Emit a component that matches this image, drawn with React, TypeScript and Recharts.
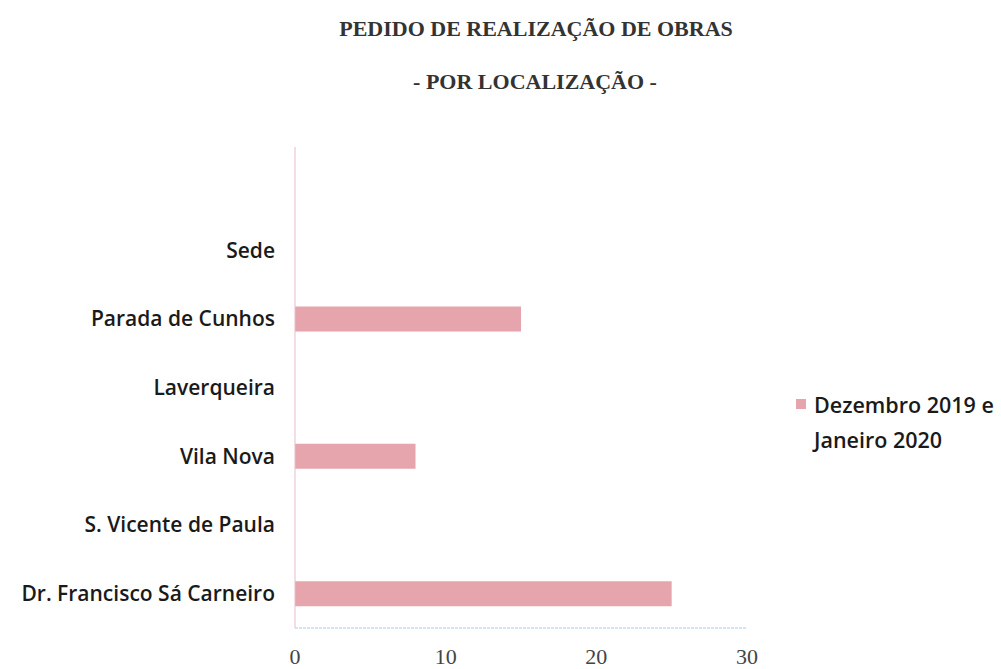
import React from "react";
import { BarChart, Bar, XAxis, YAxis, Legend } from "recharts";

const LOCATIONS = [
  "",
  "Sede",
  "Parada de Cunhos",
  "Laverqueira",
  "Vila Nova",
  "S. Vicente de Paula",
  "Dr. Francisco Sá Carneiro",
];
const PEDIDOS = [0, 0, 15, 0, 8, 0, 25];
const X_TICKS = [0, 10, 20, 30];
const SERIES_NAME = "Dezembro 2019 e Janeiro 2020";

const BAR_COLOR = "#e6a4ad";

const data = LOCATIONS.map((name, i) => ({ name, value: PEDIDOS[i] }));

function LegendBox() {
  return (
    <div
      style={{
        display: "flex",
        alignItems: "flex-start",
        fontFamily: "'Open Sans', sans-serif",
        fontWeight: 600,
        fontSize: 21.5,
        color: "#1a1a1a",
        lineHeight: "35px",
      }}
    >
      <span
        style={{
          width: 10,
          height: 10,
          background: BAR_COLOR,
          marginTop: 12,
          marginRight: 8,
          flex: "none",
        }}
      />
      <span style={{ width: 200 }}>{SERIES_NAME}</span>
    </div>
  );
}

export default function App() {
  const titleStyle: React.CSSProperties = {
    position: "absolute",
    left: 0,
    textAlign: "center",
    fontFamily: "'Liberation Serif', serif",
    fontWeight: 700,
    fontSize: 22,
    color: "#333",
    whiteSpace: "nowrap",
  };
  return (
    <div
      style={{
        position: "absolute",
        left: 0,
        top: 0,
        width: 1001,
        height: 669,
        background: "#fff",
      }}
    >
      <div style={{ ...titleStyle, top: 16, width: 1072 }}>
        PEDIDO DE REALIZAÇÃO DE OBRAS
      </div>
      <div style={{ ...titleStyle, top: 69, width: 1070 }}>
        - POR LOCALIZAÇÃO -
      </div>
      <div style={{ position: "absolute", left: 0, top: 0 }}>
        <BarChart
          width={1001}
          height={669}
          data={data}
          layout="vertical"
          barSize={25}
          margin={{ top: 147, right: 254, bottom: 0, left: 0 }}
        >
          <XAxis
            type="number"
            domain={[0, 30]}
            ticks={X_TICKS}
            height={41}
            axisLine={{ stroke: "#a8c8ea", strokeDasharray: "3 1" }}
            tickLine={false}
            tickMargin={14}
            tick={{
              fontSize: 22,
              fill: "#444",
              fontFamily: "'Liberation Serif', serif",
            }}
          />
          <YAxis
            type="category"
            dataKey="name"
            width={295}
            axisLine={{ stroke: "#ebbcc2" }}
            tickLine={false}
            tickMargin={14}
            tick={{
              fontSize: 21,
              fontWeight: 600,
              fill: "#1a1a1a",
              fontFamily: "'Open Sans', sans-serif",
            }}
          />
          <Legend
            layout="horizontal"
            align="center"
            verticalAlign="middle"
            wrapperStyle={{ left: 796, top: 387, width: 215 }}
            content={() => <LegendBox />}
          />
          <Bar
            dataKey="value"
            name={SERIES_NAME}
            fill={BAR_COLOR}
            isAnimationActive={false}
          />
        </BarChart>
      </div>
    </div>
  );
}
